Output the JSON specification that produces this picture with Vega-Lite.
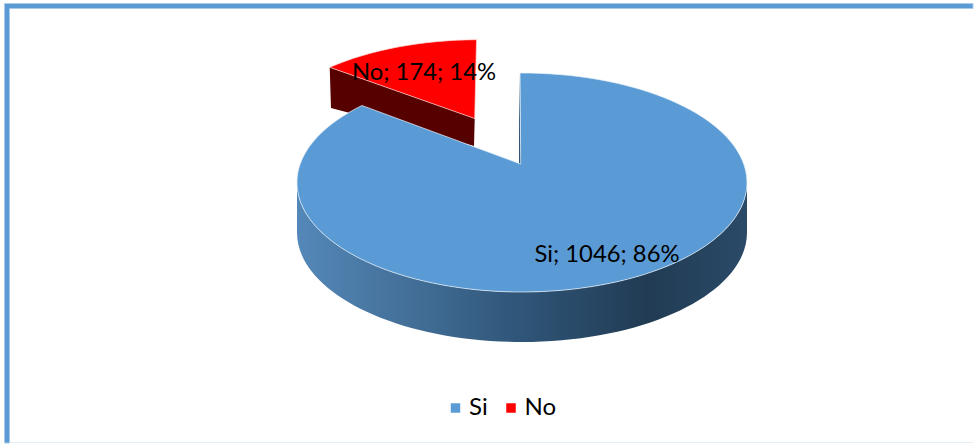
{
"$schema":"https://vega.github.io/schema/vega-lite/v6.json",
"width":974,"height":444,
"autosize":{"type":"fit","contains":"padding"},
"padding":0,
"background":"white",
"view":{"stroke":null},
"data":{"values":[
{"respuesta":"Si","valor":1046,"pct":86,"etiqueta":"Si; 1046; 86%"},
{"respuesta":"No","valor":174,"pct":14,"etiqueta":"No; 174; 14%"}
]},
"layer":[
{"mark":{"type":"square","size":0,"opacity":1},
 "encoding":{
  "color":{"field":"respuesta","type":"nominal","sort":["Si","No"],
    "scale":{"domain":["Si","No"],"range":["#5b9bd5","#ff0000"]},
    "legend":{"title":null,"orient":"none","legendX":443.5,"legendY":396,"direction":"horizontal","columns":2,"symbolType":"square","symbolSize":90,"symbolStrokeWidth":0,"symbolOpacity":1,"labelFont":"Lato","labelFontSize":24,"labelColor":"#000000","labelOffset":1.5,"columnPadding":10.5}}
 }},
{"data":{"values":[{"parte":"marco"}]},
 "mark":{"type":"point","filled":true,"opacity":1,"size":4,"color":"#5b9bd5","stroke":"#a8c9ea","strokeWidth":1,
 "shape":"M -481.5,-217.5 L 487,-217.5 L 487,-212.5 L -476.5,-212.5 L -476.5,222 L -481.5,222 Z"}},
{"data":{"values":[{"parte":"base"}]},
 "mark":{"type":"point","filled":true,"opacity":1,"size":4,"color":"#e3edf6",
 "shape":"M -476,221 L 487,221 L 487,222 L -476,222 Z"}},
{"transform":[{"filter":"datum.respuesta==='No'"}],
 "mark":{"type":"point","filled":true,"opacity":1,"size":4,"color":"#560000",
 "shape":"M -156.3,-153.7 L -11.3,-102.5 L -12,-75 L -155,-113 Z"}},
{"transform":[{"filter":"datum.respuesta==='Si'"}],
 "mark":{"type":"point","filled":true,"opacity":1,"size":4,
 "color":{"gradient":"linear","x1":0,"y1":0,"x2":1,"y2":0,"stops":[
   {"offset":0,"color":"#5488b8"},{"offset":0.25,"color":"#436f98"},{"offset":0.5,"color":"#2f5578"},{"offset":0.78,"color":"#213b53"},{"offset":1,"color":"#2a4a68"}]},
 "shape":"M -189,-38.5 A 225 109.5 0 0 0 261,-38.5 L 261,11.5 A 225 109.5 0 0 1 -189,11.5 Z M 33,-148 L 35,-57 L 33,-57 Z"}},
{"transform":[{"filter":"datum.respuesta==='Si'"}],
 "mark":{"type":"point","filled":true,"opacity":1,"size":4,"stroke":"#e8f0f8","strokeWidth":0.7,
 "shape":"M 34,-148 A 225 109.5 0 1 1 -124,-115.5 L 34.7,-57 Z"},
 "encoding":{"color":{"field":"respuesta","type":"nominal","legend":null}}},
{"transform":[{"filter":"datum.respuesta==='No'"}],
 "mark":{"type":"point","filled":true,"opacity":1,"size":4,"stroke":"#ffd0d0","strokeWidth":0.7,
 "shape":"M -9.5,-181.3 L -11.3,-102.5 L -156.3,-153.7 A 225 110 0 0 1 -9.5,-181.3 Z"},
 "encoding":{"color":{"field":"respuesta","type":"nominal","legend":null}}},
{"transform":[{"filter":"datum.respuesta==='Si'"}],
 "mark":{"type":"text","font":"Lato","fontSize":23.8,"color":"#000000","dx":121,"dy":41,"baseline":"alphabetic","align":"center"},
 "encoding":{"text":{"field":"etiqueta","type":"nominal"}}},
{"transform":[{"filter":"datum.respuesta==='No'"}],
 "mark":{"type":"text","font":"Lato","fontSize":23.8,"color":"#000000","dx":-62,"dy":-141,"baseline":"alphabetic","align":"center"},
 "encoding":{"text":{"field":"etiqueta","type":"nominal"}}}
]
}
